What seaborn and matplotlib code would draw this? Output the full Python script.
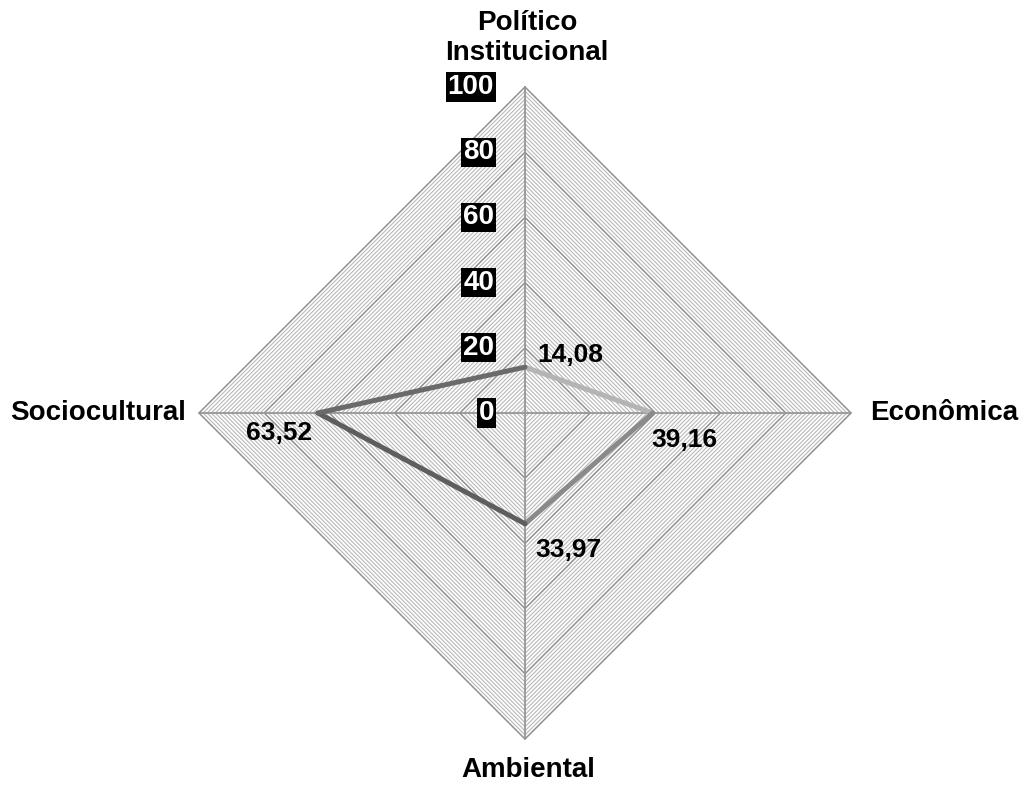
import numpy as np
import matplotlib
matplotlib.use("Agg")
import matplotlib.pyplot as plt
import seaborn as sns
import pandas as pd

# ---- data ----
categories = ["Político\nInstitucional", "Econômica", "Ambiental", "Sociocultural"]
values = [14.08, 39.16, 33.97, 63.52]
value_labels = ["14,08", "39,16", "33,97", "63,52"]
tick_values = [0, 20, 40, 60, 80, 100]
tick_labels = ["0", "20", "40", "60", "80", "100"]
minor_step = 1.25
segment_colors = ["#b4b4b4", "#8a8a8a", "#5e5e5e", "#6a6a6a"]

sns.set_theme(style="white")
plt.rcParams["font.family"] = ["Liberation Sans", "DejaVu Sans"]

W, H = 1019, 785
fig = plt.figure(figsize=(W / 100, H / 100), dpi=100)
ax = fig.add_axes([0, 0, 1, 1])
scale = 3.26  # px per unit
cx, cy = 525, 413
ax.set_xlim(-cx / scale, (W - cx) / scale)
ax.set_ylim(-(H - cy) / scale, cy / scale)
ax.axis("off")

n = len(categories)
angles = [np.pi / 2 - 2 * np.pi * i / n for i in range(n)]

def pt(r, a):
    return r * np.cos(a), r * np.sin(a)

# minor grid
for r in np.arange(minor_step, 100 + 1e-6, minor_step):
    if abs(r / 20 - round(r / 20)) < 1e-6:
        continue
    xs = [pt(r, a)[0] for a in angles + angles[:1]]
    ys = [pt(r, a)[1] for a in angles + angles[:1]]
    ax.plot(xs, ys, color="#b8b8b8", lw=0.8, zorder=1)
# major grid
for r in tick_values[1:]:
    xs = [pt(r, a)[0] for a in angles + angles[:1]]
    ys = [pt(r, a)[1] for a in angles + angles[:1]]
    ax.plot(xs, ys, color="#909090", lw=1.1, zorder=2)
# spokes
for a in angles:
    x, y = pt(100, a)
    ax.plot([0, x], [0, y], color="#969696", lw=1.3, zorder=2)

# data segments
for i in range(n):
    j = (i + 1) % n
    x0, y0 = pt(values[i], angles[i])
    x1, y1 = pt(values[j], angles[j])
    df = pd.DataFrame({"x": [x0, x1], "y": [y0, y1]})
    sns.lineplot(data=df, x="x", y="y", sort=False, ax=ax,
                 color=segment_colors[i], lw=3.6, zorder=5,
                 solid_capstyle="round")

# tick labels
for v, lab in zip(tick_values, tick_labels):
    ax.text(-31 / scale, v, lab, ha="right", va="center", fontsize=20,
            fontweight="bold", color="white", zorder=6,
            bbox=dict(boxstyle="square,pad=0.06", fc="black", ec="none"))

# category labels
fs = 20
ax.text(2 / scale, (cy - 38) / scale, categories[0], ha="center", va="center",
        fontsize=fs, fontweight="bold", color="black", linespacing=1.2)
ax.text(345 / scale, 0, categories[1], ha="left", va="center",
        fontsize=fs, fontweight="bold", color="black")
ax.text(3 / scale, -(770 - cy) / scale, categories[2], ha="center", va="center",
        fontsize=fs, fontweight="bold", color="black")
ax.text(-339 / scale, 0, categories[3], ha="right", va="center",
        fontsize=fs, fontweight="bold", color="black")

# value labels
vfs = 19
ax.text(12 / scale, (cy - 355) / scale, value_labels[0], ha="left", va="center",
        fontsize=vfs, fontweight="bold", color="black", zorder=6)
ax.text(126 / scale, -(440 - cy) / scale, value_labels[1], ha="left", va="center",
        fontsize=vfs, fontweight="bold", color="black", zorder=6)
ax.text(10 / scale, -(550 - cy) / scale, value_labels[2], ha="left", va="center",
        fontsize=vfs, fontweight="bold", color="black", zorder=6)
ax.text(-213 / scale, -(433 - cy) / scale, value_labels[3], ha="right", va="center",
        fontsize=vfs, fontweight="bold", color="black", zorder=6)

fig.savefig("out.png", dpi=100, facecolor="white")
